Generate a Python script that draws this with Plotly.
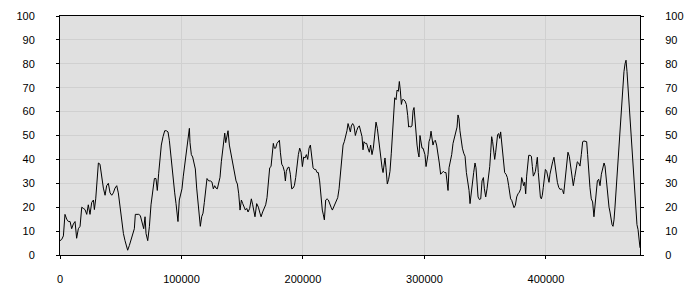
import plotly.graph_objects as go

x_vals = [
    0, 1400, 2800, 4100, 5500, 6900, 8300, 9600, 11000, 12400, 13700, 15100, 16500, 17900,
    19200, 20600, 22000, 23300, 24700, 26100, 27500, 28300, 29400, 30500, 31600, 32900,
    34300, 35700, 37100, 38400, 39800, 41200, 42600, 43900, 45300, 46700, 48000, 49400,
    50800, 52200, 53500, 54900, 55700, 57100, 58500, 59800, 61200, 62000, 63400, 64800,
    66100, 67500, 68900, 70000, 70800, 72200, 73600, 74900, 76300, 77700, 79000,
    80100, 81200, 82300, 83400, 84800, 86200, 87500, 88900, 90000, 91100, 92200, 93300,
    94400, 95500, 96300, 97100, 98200, 99300, 100400, 101500, 102600, 103700, 104800,
    105900, 106500, 107000, 108100, 109200, 110300, 111400, 112500, 113600, 114700,
    115500, 116600, 117700, 118800, 119900, 121000, 122400, 123800, 125100, 126200,
    127300, 128400, 129500, 130600, 131700, 132800, 133900, 134700, 135600, 136400,
    137200, 138300, 139400, 140500, 141600, 142700, 143800, 144900, 146000, 147100,
    148200, 149300, 150400, 151500, 152600, 153700, 154800, 156100, 157500, 158600,
    159200, 160500, 161900, 163300, 164600, 165500, 166800, 168200, 169300, 170400,
    171500, 172600, 173700, 174800, 175600, 176400, 177500, 178600, 179700, 180600,
    181400, 182500, 183600, 184700, 185500, 186300, 187400, 188500, 189600, 190700,
    191800, 192900, 194000, 195100, 196200, 197300, 198400, 199500, 200600, 201700,
    202800, 203900, 205000, 206100, 207200, 208300, 209400, 210500, 211600, 212600,
    213700, 214800, 215900, 216800, 217600, 218700, 219800, 220900, 222000, 223100,
    224200, 225300, 226400, 227500, 228600, 229700, 230800, 231900, 233000, 234000,
    235100, 236200, 237100, 238200, 239000,
    239800, 240900, 242000, 243100, 244200, 245300, 246400, 247500, 248600, 249400,
    250200, 251300, 252400, 253500, 254600, 255700, 256800, 257900, 259000, 260100,
    261200, 262300, 263400, 264200, 265100, 265900, 266700, 267500, 268300, 269400,
    270500, 271600, 272700, 273800, 274700, 275500, 276600, 277400, 278500, 279300,
    280100, 281000, 281800, 282900, 284000, 285100, 286200, 287000, 287800, 288600,
    289700, 290600, 291400, 292200, 293000, 293900, 294700, 295500, 296300, 297100,
    298000, 298800, 299600, 300400, 301300, 302100, 302900, 303700, 304600, 305400,
    306200, 307000, 307800, 308900, 310000, 311100, 312200, 313300, 314400, 315500,
    316600, 317700, 318500, 319400,
    320200, 321300, 322400, 323500, 324600, 325700, 326800, 327600, 328400, 329200,
    330100, 331200, 332300, 333400, 334500, 335600, 336700, 337500, 338300, 339400,
    340500, 341600, 342400, 343200, 344100, 345200, 346300, 347400, 348500, 349300,
    350400, 351500, 352600, 353700, 354500, 355300, 356100, 357000, 357800, 358600,
    359400, 360200, 361100, 361900, 362700, 363500, 364400, 365200, 366000, 367100,
    368200, 369300, 370100, 370900, 371800, 372600, 373700, 374800, 375900, 377000,
    378100, 379200, 380000, 380800, 381600, 382500, 383300, 384100, 384900, 385800,
    386900, 388000, 388800, 389600, 390400, 391300, 392100, 392900, 393700, 394500,
    395400, 396200, 397000, 397800, 398700,
    399500, 400600, 401700, 402500, 403300, 404400, 405500, 406600, 407400, 408300,
    409400, 410500, 411600, 412700, 413700, 414600, 415400, 416500, 417300, 418100,
    419200, 420300, 421400, 422500, 423600, 424700, 425800, 426900, 428000, 429100,
    430200, 431300, 432400, 433500, 434300, 435100, 436200, 437300, 438400, 439500,
    440400, 441200, 442300, 443400, 444500, 445600, 446700, 447800, 448600, 449400,
    450200, 451100, 451900, 452700, 453500, 454400, 455200, 456000, 456800, 457600,
    458500, 459300, 460100, 460900, 461800, 462600, 463400, 464200, 465100, 465900,
    466700, 467500, 468300, 469200, 470000, 470800, 471600, 472500, 473300, 474100,
    474900, 475800, 476600, 477400,
]

y_vals = [
    6, 6.5, 8, 17, 15, 14, 14, 11, 13, 14, 7, 11, 12, 20,
    19.5, 19, 17, 21, 17, 22, 23, 19, 23.5, 31, 38.5, 38,
    32, 28, 25, 29, 30, 26, 25, 26, 28, 29, 26, 20,
    13, 9, 6, 3, 2, 4, 6.5, 9, 11, 17, 17, 17,
    16.5, 13, 11, 16, 9, 6, 12, 21, 25.5, 32, 32,
    27, 34, 40.5, 46, 49.5, 52, 52, 51.5, 48, 42, 36.5, 31,
    26, 21.5, 17.5, 14, 23, 26, 27.7, 33, 38, 41, 46,
    52, 53, 47, 42, 41, 39, 36, 28, 21.5, 16,
    12, 16, 17.5, 22, 28, 32, 31, 31, 30.5, 27.7,
    29, 28, 27.7, 30.5, 32.5, 39, 44.7, 49.5, 51, 47,
    50, 52, 46, 43, 40.5, 36.5, 33, 31, 29.7, 25.6,
    18.8, 23, 21.5, 20, 18.8, 19.5, 18, 19.5, 23.5, 21,
    19.5, 16, 21.5, 20, 17.5, 16, 18, 19.5, 21, 24,
    31, 36.5, 37, 42, 46.7, 44.7, 44.7, 46.7, 47.4, 48,
    43, 38, 37, 35, 31, 35, 36.5, 36.8, 33.8, 27.7,
    28, 29, 32.4, 38, 42, 44.7, 43, 37, 41, 40.6,
    42, 40, 44.7, 46, 42, 36.5, 35.8, 35.8, 34.5, 34.5,
    31, 23.5, 18.8, 16.8, 14.7, 23, 23.5, 23, 21, 20,
    18.8, 20, 21.5, 23, 24, 27.7, 34.5, 40.6, 46, 47.4,
    49.5, 52, 55, 53, 51.5,
    54, 55, 54, 50, 52, 53.5, 54, 52, 49.5, 44,
    47.4, 46.7, 46.7, 44.7, 43, 46, 42, 44.7, 51.5, 55.6,
    53, 48, 43, 38.5, 36.5, 34.5, 39, 40.6, 36.5, 29.7,
    31.7, 35, 42.6, 51.5, 61, 65.8, 65, 69, 68.5, 72.6,
    69, 63, 65, 65, 64.4, 63, 58.3, 53.5, 54, 53.5,
    54, 60.4, 61.7, 56.3, 50, 46, 43, 41, 50, 47.4,
    44.7, 44.7, 43, 42, 37, 39, 42, 47.4, 48.8, 51.8,
    48, 46, 47.4, 48, 46, 43, 38.5, 33.8, 34.5, 35,
    34.5, 34.5, 31, 27,
    36.5, 39, 42, 46.7, 49.5, 50.8, 53.5, 58.6, 57, 52,
    48, 44.7, 42.6, 41.3, 34.5, 31, 27, 21.5, 26.3, 29.7,
    34.5, 38.5, 36.5, 30.4, 24.3, 23.2, 23.5, 31, 32.4, 27.7,
    24.3, 27.7, 31.7, 37, 43, 49.5, 47.4, 43, 40, 43,
    46, 50.4, 50.8, 48.8, 51.5, 47.4, 42, 38.5, 34.5, 33.8,
    32.4, 29, 25, 23.5, 22.9, 21.5, 19.8, 20.8, 24.3, 25.6,
    26.3, 27.7, 32.4, 31, 29, 30.4, 25.6, 33, 37.9, 41.7,
    41.7, 41.3, 37, 33, 33.8, 35, 37.9, 40.9, 34.5, 27.7,
    24.3, 23.5, 25, 28.3, 33,
    35.8, 35, 33, 30.4, 33.8, 37.2, 39, 40.9, 37.9, 33.8,
    30.4, 28.3, 27.4, 27.7, 27, 25.6, 29.7, 33, 39, 43,
    41.3, 36.5, 32.4, 29, 32.4, 35, 39, 38.5, 37.2, 42,
    47.4, 47.7, 47.7, 47.4, 42, 34.5, 28.3, 23.5, 22.2, 16,
    21.5, 27, 31, 31.7, 29, 33.8, 36.5, 38.5, 37.2, 33,
    27, 22.9, 20, 18, 14.7, 12.7, 12, 14.7, 20, 26.3,
    33.8, 41.3, 46, 51.5, 57, 65, 72.6, 76.7, 80, 81.5,
    76.7, 70.6, 62.4, 56.3, 51.5, 46, 39, 30.4, 22.2, 16.8,
    12.7, 10.6, 6.5, 3,
]

x_ticks = [0, 100000, 200000, 300000, 400000]
y_ticks = [0, 10, 20, 30, 40, 50, 60, 70, 80, 90, 100]

x_max = 477400
font = dict(family="Liberation Sans", size=11, color="#000000")

fig = go.Figure()
fig.add_trace(go.Scatter(
    x=x_vals, y=y_vals, mode="lines",
    line=dict(color="#000000", width=1),
    showlegend=False, hoverinfo="skip",
))
fig.add_trace(go.Scatter(
    x=x_vals, y=y_vals, mode="lines", yaxis="y2",
    line=dict(color="#000000", width=1), opacity=0,
    showlegend=False, hoverinfo="skip",
))

axis_common = dict(
    showline=True, linecolor="#000000", linewidth=1,
    ticks="outside", ticklen=3, tickcolor="#000000", tickwidth=1,
    gridcolor="#d0d0d0", gridwidth=1, zeroline=False,
    tickfont=font,
)

fig.update_layout(
    width=700, height=300,
    margin=dict(l=60, r=60, t=10, b=45),
    paper_bgcolor="#ffffff",
    plot_bgcolor="#e0e0e0",
    xaxis=dict(
        range=[0, x_max], tickvals=x_ticks, ticktext=[str(v) for v in x_ticks],
        mirror=True, ticklabelstandoff=11, **axis_common,
    ),
    yaxis=dict(
        range=[0, 100], tickvals=y_ticks, ticktext=[str(v) for v in y_ticks],
        mirror=True, ticklabelstandoff=19, **axis_common,
    ),
    yaxis2=dict(
        range=[0, 100], tickvals=y_ticks, ticktext=[str(v) for v in y_ticks],
        overlaying="y", side="right", showgrid=False,
        showline=True, linecolor="#000000", linewidth=1,
        ticks="outside", ticklen=3, tickcolor="#000000", tickwidth=1,
        zeroline=False, tickfont=font, ticklabelstandoff=19,
    ),
)

fig.write_html("out.html")
